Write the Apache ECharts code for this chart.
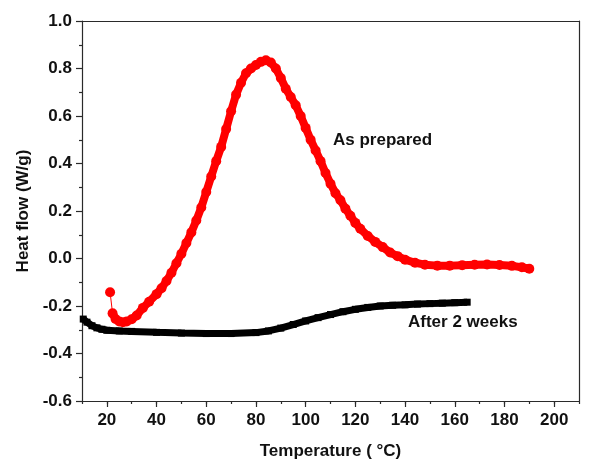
<!DOCTYPE html>
<html>
<head>
<meta charset="utf-8">
<script src="https://cdn.jsdelivr.net/npm/echarts@6/dist/echarts.min.js"></script>
<style>html,body{margin:0;padding:0;background:#fff}#c{width:592px;height:460px}</style>
</head>
<body>
<div id="c"></div>
<script>
// As prepared (red) — [temperature °C, heat flow W/g]
var asPrepared = [
  [21.3,-0.142],[22.3,-0.231],[23.5,-0.255],[25,-0.265],[26.5,-0.268],[28,-0.265],[30,-0.256],
  [32,-0.240],[34.5,-0.208],[37,-0.182],[40,-0.15],[42,-0.125],[44,-0.095],[46,-0.06],[48,-0.02],
  [50,0.02],[52,0.065],[54,0.11],[56,0.16],[58,0.215],[60,0.28],[62,0.345],[64,0.41],[66,0.47],
  [68,0.545],[70,0.62],[72,0.69],[74,0.74],[76,0.78],[78,0.80],[80,0.815],[82,0.828],[84,0.835],
  [86,0.825],[88,0.80],[90,0.76],[92,0.715],[94,0.68],[96,0.645],[98,0.60],[100,0.55],[102,0.50],
  [104,0.455],[106,0.41],[108,0.36],[110,0.315],[112,0.275],[114,0.245],[116,0.21],[118,0.18],
  [120,0.15],[122,0.125],[125,0.095],[128,0.07],[131,0.048],[134,0.025],[137,0.01],[140,-0.005],
  [144,-0.018],[148,-0.026],[153,-0.03],[158,-0.03],[163,-0.028],[168,-0.026],[173,-0.025],
  [178,-0.027],[183,-0.031],[187,-0.037],[190,-0.043]
];
// After 2 weeks (black)
var after2Weeks = [
  [10.5,-0.255],[12,-0.268],[14,-0.283],[16,-0.292],[18,-0.298],[20,-0.302],[25,-0.305],[30,-0.307],
  [40,-0.311],[50,-0.314],[60,-0.316],[70,-0.316],[80,-0.312],[85,-0.305],[90,-0.293],[95,-0.278],
  [100,-0.263],[105,-0.249],[110,-0.236],[115,-0.224],[120,-0.214],[125,-0.206],[130,-0.200],
  [135,-0.197],[140,-0.195],[145,-0.192],[150,-0.19],[155,-0.188],[160,-0.186],[165,-0.184]
];
var xMajorTicks = [20,40,60,80,100,120,140,160,180,200];
var seriesNames = ['As prepared','After 2 weeks'];

var chart = echarts.init(document.getElementById('c'), null, {renderer:'canvas'});
var FONT = '"Liberation Sans", Arial, sans-serif';
var FS = 17;
var axisCol = '#2a2a2a';
var opt = {
  animation: false,
  backgroundColor: '#fff',
  grid: {left: 82, right: 13, top: 21, bottom: 59, containLabel: false, outerBoundsMode: 'none'},
  xAxis: [
    {type:'value', position:'bottom', min:10, max:210, interval:10,
     axisLine:{show:true, onZero:false, lineStyle:{color:axisCol, width:1.2}},
     axisTick:{show:true, length:3, lineStyle:{color:axisCol, width:1.2}},
     axisLabel:{show:false}, splitLine:{show:false}},
    {type:'value', position:'bottom', min:10, max:210, interval:10,
     axisLine:{show:false, onZero:false},
     axisTick:{show:true, length:6, customValues: xMajorTicks, lineStyle:{color:axisCol, width:1.2}},
     axisLabel:{show:true, customValues: xMajorTicks, margin:11, color:'#111', fontFamily:FONT, fontWeight:'bold', fontSize:FS},
     splitLine:{show:false},
     name:'Temperature ( °C)', nameLocation:'middle', nameGap:42,
     nameTextStyle:{color:'#111', fontFamily:FONT, fontWeight:'bold', fontSize:FS}},
    {type:'value', position:'top', min:10, max:210,
     axisLine:{show:true, onZero:false, lineStyle:{color:axisCol, width:1.2}},
     axisTick:{show:false}, axisLabel:{show:false}, splitLine:{show:false}}
  ],
  yAxis: [
    {type:'value', position:'left', min:-0.6, max:1.0, interval:0.2,
     axisLine:{show:true, onZero:false, lineStyle:{color:axisCol, width:1.2}},
     axisTick:{show:true, length:6, lineStyle:{color:axisCol, width:1.2}},
     minorTick:{show:true, splitNumber:2, length:3, lineStyle:{color:axisCol, width:1.2}},
     axisLabel:{margin:10, color:'#111', fontFamily:FONT, fontWeight:'bold', fontSize:FS,
       formatter:function(v){return v.toFixed(1);}},
     splitLine:{show:false},
     name:'Heat flow (W/g)', nameLocation:'middle', nameGap:50,
     nameTextStyle:{color:'#111', fontFamily:FONT, fontWeight:'bold', fontSize:FS}},
    {type:'value', position:'right', min:-0.6, max:1.0,
     axisLine:{show:true, onZero:false, lineStyle:{color:axisCol, width:1.2}},
     axisTick:{show:false}, axisLabel:{show:false}, splitLine:{show:false}}
  ],
  series: [
    {name:seriesNames[1], type:'line', xAxisIndex:0, yAxisIndex:0, data:after2Weeks,
     symbol:'rect', symbolSize:7, showSymbol:true, itemStyle:{color:'#000'},
     lineStyle:{color:'#000', width:7}, z:2},
    {name:seriesNames[0], type:'line', xAxisIndex:0, yAxisIndex:0, data:asPrepared.slice(1),
     symbol:'none', lineStyle:{color:'#ff0000', width:8, cap:'round', join:'round'}, z:3},
    {name:seriesNames[0], type:'line', xAxisIndex:0, yAxisIndex:0, data:asPrepared,
     symbol:'circle', symbolSize:10, showSymbol:true, itemStyle:{color:'#ff0000'},
     lineStyle:{color:'#ff0000', width:1}, z:4}
  ],
  graphic: [
    {type:'text', left:333, top:132, style:{text:seriesNames[0], fill:'#111', font:'bold 17px "Liberation Sans", Arial, sans-serif'}},
    {type:'text', left:408, top:314, style:{text:seriesNames[1], fill:'#111', font:'bold 17px "Liberation Sans", Arial, sans-serif'}}
  ]
};
chart.setOption(opt);
</script>
</body>
</html>
